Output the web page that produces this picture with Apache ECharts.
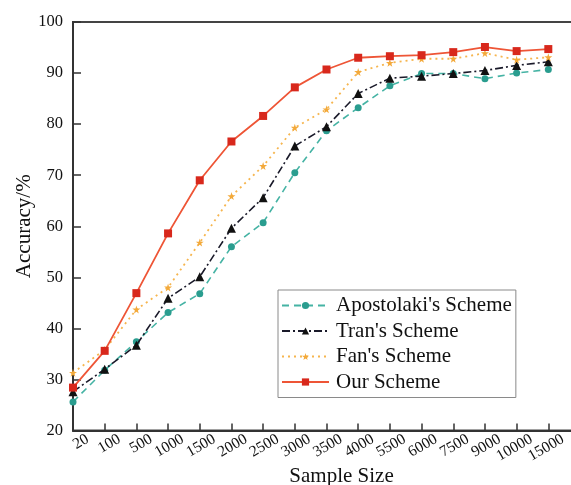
<!DOCTYPE html>
<html>
<head>
<meta charset="utf-8">
<script src="https://cdn.jsdelivr.net/npm/echarts@6/dist/echarts.min.js"></script>
<style>
  html, body { margin: 0; padding: 0; background: #fff; }
  #chart { width: 571px; height: 485px; }
</style>
</head>
<body>
<div id="chart"></div>
<script>
// Sample sizes along the x axis (a trailing blank slot lets the axis run on past the last point)
var sampleSizes = ['20', '100', '500', '1000', '1500', '2000', '2500', '3000', '3500',
                   '4000', '5500', '6000', '7500', '9000', '10000', '15000', ''];

// Accuracy (%) of each scheme at each sample size
var apostolaki = [25.6, 31.8, 37.4, 43.1, 46.8, 56.0, 60.7, 70.5, 78.7, 83.2, 87.5, 89.9, 89.9, 88.9, 90.0, 90.7];
var tran       = [27.6, 32.0, 36.7, 45.9, 50.1, 59.6, 65.6, 75.7, 79.5, 86.0, 89.0, 89.4, 89.9, 90.5, 91.5, 92.2];
var fan        = [31.3, 35.8, 43.7, 48.0, 56.8, 65.9, 71.8, 79.3, 82.9, 90.2, 92.0, 92.8, 92.8, 93.9, 92.6, 93.1];
var ours       = [28.4, 35.6, 46.9, 58.6, 69.0, 76.6, 81.6, 87.2, 90.7, 93.0, 93.3, 93.5, 94.1, 95.1, 94.3, 94.7];

var seriesNames = ["Apostolaki's Scheme", "Tran's Scheme", "Fan's Scheme", "Our Scheme"];

var serif = '"Liberation Serif", "Times New Roman", serif';
var starPath = 'path://M50,0 L61,35 L98,35 L68,57 L79,91 L50,70 L21,91 L32,57 L2,35 L39,35 Z';

var chart = echarts.init(document.getElementById('chart'), null, { renderer: 'canvas' });

chart.setOption({
  backgroundColor: '#ffffff',
  animation: false,
  grid: {
    left: 73, top: 22, width: 507, height: 408.5,
    show: true, borderColor: '#444', borderWidth: 2,
    outerBoundsMode: 'none'
  },
  legend: {
    orient: 'vertical',
    left: 278, top: 290,
    padding: [5, 4, 5, 3],
    itemWidth: 47, itemHeight: 9, itemGap: 4.5,
    borderColor: '#8a8a8a', borderWidth: 1,
    backgroundColor: '#fff',
    textStyle: { fontFamily: serif, fontSize: 21, color: '#111', lineHeight: 21, padding: [0, 0, 0, 2] },
    data: seriesNames
  },
  xAxis: {
    type: 'category',
    data: sampleSizes,
    boundaryGap: false,
    name: 'Sample Size',
    nameLocation: 'middle',
    nameGap: 35,
    nameMoveOverlap: false,
    nameTextStyle: { fontFamily: serif, fontSize: 21, color: '#111', padding: [0, 0, 0, 30] },
    axisLine: { lineStyle: { color: '#333', width: 2 } },
    axisTick: { inside: true, length: 7, alignWithLabel: true, lineStyle: { color: '#333', width: 1.5 } },
    axisLabel: {
      interval: 0, rotate: 30, margin: 16,
      fontFamily: serif, fontSize: 15.5, color: '#111',
      padding: [0, -17, 0, 0]
    },
    splitLine: { show: false }
  },
  yAxis: {
    type: 'value',
    min: 20, max: 100, interval: 10,
    name: 'Accuracy/%',
    nameLocation: 'middle',
    nameGap: 38,
    nameMoveOverlap: false,
    nameTextStyle: { fontFamily: serif, fontSize: 21, color: '#111' },
    axisLine: { show: true, lineStyle: { color: '#333', width: 2 } },
    axisTick: { show: true, inside: true, length: 8, lineStyle: { color: '#333', width: 1.5 } },
    axisLabel: { margin: 10, fontFamily: serif, fontSize: 16.5, color: '#111' },
    splitLine: { show: false }
  },
  series: [
    {
      name: seriesNames[0], type: 'line', data: apostolaki,
      symbol: 'circle', symbolSize: 7,
      lineStyle: { color: '#45b3a4', width: 1.6, type: [7, 5] },
      itemStyle: { color: '#2a9d8f' },
      z: 2
    },
    {
      name: seriesNames[1], type: 'line', data: tran,
      symbol: 'triangle', symbolSize: 9,
      lineStyle: { color: '#1a1a2a', width: 1.6, type: [8, 3, 2, 3] },
      itemStyle: { color: '#111111' },
      z: 3
    },
    {
      name: seriesNames[2], type: 'line', data: fan,
      symbol: starPath, symbolSize: 8,
      lineStyle: { color: '#f6b54e', width: 1.8, type: [2, 4] },
      itemStyle: { color: '#f3a93a' },
      z: 4
    },
    {
      name: seriesNames[3], type: 'line', data: ours,
      symbol: 'rect', symbolSize: 8,
      lineStyle: { color: '#ee5536', width: 1.8 },
      itemStyle: { color: '#d8281c' },
      z: 5
    }
  ]
});
</script>
</body>
</html>
